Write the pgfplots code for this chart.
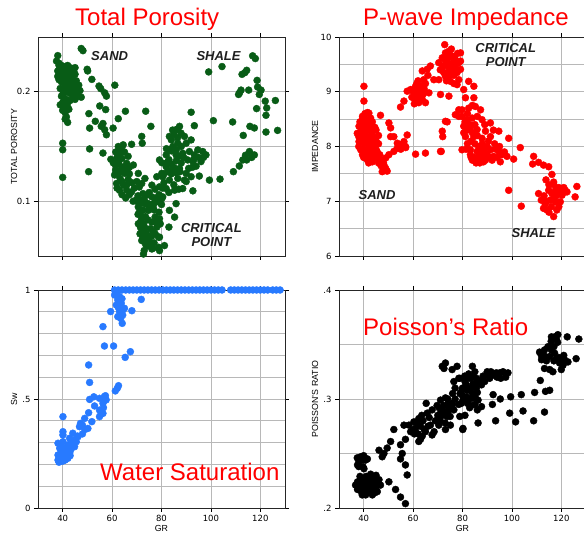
\documentclass[border=0pt]{standalone}
\usepackage{fontspec}
\setmainfont{Liberation Sans}
\newfontfamily\tickfont{DejaVu Sans}
\usepackage{pgfplots}
\pgfplotsset{compat=1.18}
\definecolor{pgreen}{RGB}{8,92,22}
\definecolor{pblue}{RGB}{40,122,255}
\definecolor{annot}{RGB}{30,30,30}
\tikzset{ann/.style={font=\fontsize{13}{14.7}\selectfont\bfseries\itshape, text=annot, align=center}}
\pgfplotsset{
  base/.style={
    scale only axis, width=247pt, anchor=south west,
    xmin=30, xmax=130, xtick={40,60,...,120},
    grid=both,
    major grid style={draw=black!28, line width=0.8pt},
    minor grid style={draw=black!28, line width=0.8pt},
    axis line style={line width=0.8pt, black!85},
    tick style={black, line width=0.6pt},
    tick align=outside, major tick length=4pt, minor tick length=0pt,
    ticklabel style={font=\tickfont\fontsize{8.5}{10}\selectfont},
    /pgf/number format/assume math mode=true,
    label style={font=\fontsize{8.8}{10}\selectfont},
    ylabel style={at={(axis description cs:-0.097,0.5)}, anchor=center},
    xlabel style={at={(axis description cs:0.5,-0.092)}, anchor=center},
    clip=false,
    every axis plot/.append style={only marks, mark=*, mark size=3.5pt},
  },
}
\begin{document}
\begin{tikzpicture}
\useasboundingbox (0,0) rectangle (584pt,537pt);
% ---------------- Total Porosity ----------------
\begin{axis}[base, at={(38pt,281pt)}, height=219pt,
  ymin=0.05, ymax=0.25, ytick={0.1,0.2}, minor ytick={0.15},
  yticklabels={0.1,0.2}, xticklabels={},
  ylabel={TOTAL POROSITY}]
\addplot[pgreen, mark options={fill=pgreen, draw=pgreen}] coordinates {
(38,0.233)(37.5,0.228)(38.5,0.224)(39,0.221)(40,0.222)(41,0.223)(42,0.224)(43,0.222)(44,0.221)(45,0.222)
(38,0.219)(39,0.216)(40,0.215)(41,0.217)(42,0.218)(43,0.216)(44,0.214)(45,0.216)
(38.5,0.211)(39.5,0.209)(40.5,0.208)(41.5,0.21)(42.5,0.209)(43.5,0.211)(44.5,0.207)
(39,0.203)(40,0.201)(41,0.2)(42,0.203)(43,0.204)(39.5,0.196)(40.5,0.194)(41.5,0.193)
(40,0.19)(41,0.187)(42,0.186)(45,0.203)(46,0.199)(47,0.201)(46.5,0.206)(47.5,0.195)(44,0.196)(45,0.193)
(40,0.183)(41,0.181)(42.5,0.184)(41.5,0.177)(42,0.172)(38,0.214)
(38.5,0.226)(39.5,0.224)(40.5,0.219)(41.5,0.22)(42.5,0.213)(43.5,0.219)(44.5,0.218)(39.5,0.213)(40.5,0.212)(41,0.205)(42.5,0.199)
(43.5,0.201)(40,0.197)(41,0.191)(39,0.188)(42,0.19)(43,0.192)(44,0.2)(46,0.196)(45.5,0.21)(41,0.175)(40.5,0.185)
(47.5,0.2395)(48.2,0.2375)(49.9,0.2205)(50.1,0.219)(51.8,0.2113)(54.7,0.2052)(55.4,0.2028)(57,0.199)(57.7,0.196)(61.1,0.206)
(55,0.187)(57.4,0.1837)(50.6,0.18)(53.2,0.173)(55.6,0.1684)(57,0.1653)(57.7,0.1607)(56.3,0.171)(60.4,0.1668)(62.5,0.1754)(65.4,0.1822)
(50.9,0.1668)(40,0.153)(40,0.147)(40,0.1218)(50.9,0.1478)(56.3,0.144)(50.5,0.127)(59.5,0.1383)(73.6,0.1822)(75.7,0.1684)
(72,0.1592)(72.2,0.153)(67.9,0.152)(64.5,0.1515)(63.1,0.145)(63.8,0.149)(62.5,0.1377)(61.4,0.1331)(63.8,0.13)(65.9,0.1346)(68.6,0.1331)
(61.4,0.1285)(62.5,0.1254)(65.2,0.1254)(61.8,0.1162)(64.5,0.1147)(65.9,0.1101)(67.9,0.1086)(69.9,0.1015)(70.6,0.1254)(73.3,0.1208)
(76.1,0.1147)(72,0.1162)(77.4,0.111)(80.1,0.1352)(80.1,0.1254)(78.1,0.1224)
(62,0.14)(63,0.142)(64,0.139)(62.8,0.134)(64.5,0.131)(63.2,0.121)(64,0.118)(66.5,0.12)(63,0.11)(62,0.112)(66,0.115)(67,0.125)(68,0.117)(69,0.112)(65,0.145)(66.5,0.141)(70,0.118)(71,0.113)
(60.5,0.135)(61,0.124)(63.5,0.127)(66,0.128)(67,0.131)(64,0.106)(65.5,0.103)(67,0.106)(68.5,0.1)(61.5,0.145)(62.5,0.15)
(70.6,0.0948)(71.3,0.0886)(72,0.084)(72.7,0.0794)(73.3,0.0748)(74,0.0702)(74.7,0.0656)(75.4,0.061)(72.7,0.0518)(76.1,0.0564)(78.8,0.058)
(74.7,0.0917)(76.7,0.0963)(78.8,0.0994)(80.1,0.1024)(77.4,0.0856)(76.1,0.081)(78.1,0.0764)(79.5,0.0794)(76.7,0.0718)(78.8,0.0672)
(73.3,0.0978)(72,0.1009)(70.6,0.0794)(71.3,0.0702)(72,0.0641)(74,0.1055)(76.1,0.104)(78,0.103)
(71,0.09)(72.5,0.092)(73.5,0.086)(75,0.095)(77,0.092)(71.5,0.081)(73,0.077)(74.5,0.083)(72,0.072)(75.5,0.075)(73.5,0.066)(76,0.068)(74,0.059)(77,0.062)(70.5,0.105)(72.5,0.107)(75,0.108)
(70,0.1)(71.5,0.098)(73,0.101)(74.5,0.098)(76,0.097)(77.5,0.1)(79,0.106)(70.5,0.088)(71.5,0.076)(72.5,0.067)(73.5,0.061)(75,0.064)
(76.5,0.057)(77.5,0.07)(78,0.081)(79,0.09)(80,0.097)(73,0.055)
(79.2,0.1377)(81.9,0.1423)(83.2,0.1592)(85.9,0.1653)(87.3,0.1684)(87.9,0.1622)(89.3,0.1592)(90,0.153)(92,0.156)(86.6,0.153)(84.6,0.15)
(83.2,0.1469)(85.9,0.1423)(88.6,0.1438)(91.3,0.1454)(94.7,0.1469)(96.7,0.1454)(98,0.1423)(96,0.1362)(93.3,0.1423)(92.7,0.1362)(90.6,0.1377)
(81.9,0.1316)(84.6,0.1285)(87.3,0.13)(90,0.1254)(92.5,0.131)(80.5,0.1224)(83.2,0.1193)(86.6,0.1208)(89.3,0.1193)(92,0.1224)(95.3,0.123)
(79.2,0.1132)(81.9,0.1116)(85.3,0.1101)(88.6,0.1116)(92.7,0.1095)(80.5,0.104)(85.9,0.0978)(83.2,0.0917)(85.3,0.0855)(79.2,0.084)(83,0.0764)
(79.2,0.0672)(81.2,0.0595)(79.2,0.0549)(99.4,0.1193)(103.7,0.1202)(109.1,0.127)(111.5,0.1322)(112.9,0.1377)(114.5,0.1377)(115.6,0.1454)(117.6,0.1423)(116.5,0.14)(114,0.142)
(84,0.156)(85,0.161)(86.5,0.158)(88,0.15)(83,0.138)(84,0.134)(86,0.137)(87.5,0.127)(82.5,0.127)(85,0.115)(81,0.117)(84,0.125)
(81,0.125)(82,0.135)(83,0.128)(85,0.131)(86,0.126)(88,0.135)(89,0.14)(91,0.13)(93,0.138)(94,0.132)(97,0.14)(95,0.14)(84,0.146)(86,0.147)
(82,0.148)(87,0.141)(80.5,0.112)(83,0.108)(87,0.111)(90,0.118)(84.5,0.165)(86.5,0.166)
(92,0.1813)(93.3,0.169)(101,0.1736)(108.8,0.1724)(113.1,0.1601)(115.8,0.1684)(117.6,0.1669)(122.3,0.1632)(127,0.1647)(118.5,0.1846)
(122.3,0.1785)(122.6,0.1852)(126.1,0.192)(122,0.1914)(119.6,0.1975)(120.3,0.2015)(118.9,0.2043)(118.7,0.2104)(115.3,0.2015)(112.2,0.2015)
(111.2,0.1975)(111.6,0.199)(112.6,0.2159)(114.5,0.2196)(113.8,0.2175)(116.9,0.2328)(118,0.2303)(99.1,0.2181)(104.5,0.223)
};
\node[ann] at (axis cs:59,0.2327) {SAND};
\node[ann] at (axis cs:103.1,0.2327) {SHALE};
\node[ann] at (axis cs:100.2,0.0692) {CRITICAL\\POINT};
\end{axis}
% ---------------- P-wave Impedance ----------------
\begin{axis}[base, at={(339pt,281pt)}, height=219pt,
  ymin=6, ymax=10, ytick={6,7,8,9,10}, minor ytick={6.5,7.5,8.5,9.5},
  yticklabels={6,7,8,9,10}, xticklabels={},
  ylabel={IMPEDANCE}]
\addplot[red, mark options={fill=red, draw=red}] coordinates {
(40.1,9.1)(40.1,8.83)(42.1,8.61)(46.8,8.57)(42.8,8.52)(39.4,8.49)(41.4,8.43)(38.1,8.37)(40.1,8.34)(42.8,8.34)(37.4,8.24)(39.4,8.21)
(41.4,8.18)(43.5,8.21)(44.8,8.12)(38.1,8.09)(40.1,8.06)(42.1,8.03)(44.1,8.0)(38.8,7.94)(40.8,7.91)(42.8,7.88)(44.8,7.85)(41.4,7.76)
(43.5,7.72)(46.2,7.75)(48.2,7.66)(47.5,7.54)(48.9,7.6)(50.2,7.85)(52.2,7.91)(53.6,7.97)(54.9,8.03)(56.3,8.09)(57.6,8.21)(56.9,8.0)
(50.9,8.18)(52.2,8.18)(50.2,8.43)(50.9,8.34)(53.6,8.06)(48.9,7.79)(61,7.86)(65,7.88)(71.4,7.91)
(38,8.0)(39,8.12)(40.5,8.25)(41,8.5)(42,8.4)(43,8.28)(44,8.15)(45,7.95)(39.5,7.85)(41,7.82)(42,7.7)(43,7.8)(45.5,7.9)(46,8.05)(39,8.3)(40,7.95)(43.5,8.45)(45,8.3)(55,7.95)(57,7.98)(55.5,8.0)
(38.5,8.45)(39.5,8.55)(40.5,8.6)(41.5,8.62)(42,8.3)(43,8.15)(44,8.05)(45,8.1)(46,8.2)(44,7.9)(45,7.8)(46,7.7)(47,7.65)(38,8.18)(39,7.95)
(40,7.8)(41.5,7.95)(42.5,8.1)(43.5,7.95)(40.5,8.12)(39.5,8.4)(44.5,8.35)(46.5,7.85)(47.5,7.75)(48,7.7)(49.5,7.55)
(54.9,8.72)(56.3,8.83)(57.6,9.01)(59,9.04)(61,9.1)(61.7,8.95)(63,9.04)(63.7,8.86)(65,8.8)(62.3,8.8)(60.3,8.89)(64.3,9.22)(63.7,9.38)
(65.7,9.41)(67,9.47)(68.4,9.22)(66.4,8.98)(64,8.95)(60,9.0)(61.5,9.15)(62,9.2)(63.5,9.1)(64.5,9.05)(62.5,8.92)(66,9.3)(60.5,8.78)
(59.5,8.9)(60.5,9.05)(61.5,8.85)(62.5,9.05)(63,8.9)(64,9.12)(61,8.95)(65,9.15)(62,8.82)
(70.4,9.53)(71.8,9.62)(73.1,9.71)(72.8,9.86)(74.5,9.74)(75.8,9.65)(76.5,9.56)(74.5,9.44)(73.1,9.28)(75.1,9.19)(77.8,9.13)(77.8,9.35)
(78.5,9.53)(71.1,8.95)(74.5,8.92)(72.4,9.35)(70.4,9.22)(72,9.45)(73.5,9.55)(75,9.5)(76,9.4)(77,9.6)(74,9.6)(71,9.4)(76.5,9.3)
(79.2,9.71)(79.2,9.56)(79.2,9.41)(78.5,9.22)
(73,9.5)(74,9.35)(75,9.3)(76,9.65)(77,9.45)(78,9.4)(72.5,9.6)(74.5,9.65)(75.5,9.78)(78,9.7)(76.5,9.15)(73.5,9.2)
(77.1,8.58)(78.5,8.55)(73.1,8.46)(73.8,8.45)(71.8,8.28)(72,8.18)(71.1,7.91)(79.8,7.94)(79.8,8.67)
(82.5,9.19)(84.6,9.1)(80.5,9.04)(81.2,8.89)(84.6,8.89)(85.2,8.73)(87.3,8.67)(78.5,8.67)(79.8,8.55)(81.9,8.49)(83.9,8.52)(87.9,8.49)
(91.3,8.43)(94.7,8.28)(92.5,8.3)(80.5,8.37)(83.2,8.34)(85.9,8.31)(89.3,8.28)(81.2,8.18)(84.6,8.18)(87.9,8.15)(91.3,8.18)(98.7,8.15)
(103.4,7.98)(83.2,7.94)(85.9,7.91)(88.6,7.97)(91.3,7.94)(94.7,7.91)(83.2,7.85)(86.6,7.79)(89.3,7.75)(92.6,7.82)(96,7.85)(98,7.82)
(100.7,7.77)(95.3,7.72)(98.7,7.2)(103.8,6.91)
(82,8.6)(83,8.4)(84,8.25)(85,8.05)(86,8.2)(87,7.85)(88,8.05)(85,7.8)(84,7.75)(86,7.75)(88,7.8)(90,7.85)(82,8.05)(80.5,8.25)(81.5,7.95)(89,8.4)(90.5,8.1)(93,8.05)(84,8.75)(86,8.55)
(82,8.3)(83.5,8.1)(85,8.4)(86.5,8.0)(87.5,7.95)(89,7.9)(90,8.0)(91,7.8)(92,7.75)(87,7.7)(88.5,7.72)(85.5,7.7)(83.5,7.8)(81,8.45)(82.5,8.7)(93.5,7.95)(94,7.8)(95,8.0)(97,7.9)
(108.8,7.82)(108.4,7.68)(110.8,7.71)(112.8,7.66)(114.9,7.63)(116.2,7.49)(113.8,7.39)(116.9,7.35)(110.8,7.14)(111.9,7.02)(112.8,6.87)
(114.2,6.84)(116.9,6.72)(118.2,6.84)(114.9,7.2)(116.2,7.14)(117.6,7.2)(118.9,7.14)(115.5,7.02)(117.6,6.99)(119.6,6.99)(121.6,7.2)
(122.3,7.17)(120.3,7.11)(126.3,7.27)(125.6,7.08)(119,7.25)(117,7.3)(121,7.25)
(113,7.1)(114,7.0)(115,7.3)(116,6.9)(117,7.05)(118,7.1)(119,6.9)(120,7.2)(115,6.8)(113.5,6.95)
};
\node[ann] at (axis cs:97.5,9.67) {CRITICAL\\POINT};
\node[ann] at (axis cs:45.4,7.12) {SAND};
\node[ann] at (axis cs:108.8,6.42) {SHALE};
\end{axis}
% ---------------- Water Saturation ----------------
\begin{axis}[base, at={(38pt,29pt)}, height=218pt,
  ymin=0, ymax=1, ytick={0,0.5,1}, minor ytick={0.1,0.2,0.3,0.4,0.6,0.7,0.8,0.9},
  yticklabels={0,.5,1}, xticklabels={40,60,80,100,120},
  ylabel={Sw}, xlabel={GR}]
\addplot[pblue, mark options={fill=pblue, draw=pblue}] coordinates {
(61,1)(62.5,1)(64,1)(65.5,1)(67,1)(68.5,1)(70,1)(71.5,1)(73,1)(74.5,1)(76,1)(77.5,1)(79,1)(80.5,1)(82,1)(83.5,1)(85,1)(86.5,1)
(88,1)(89.5,1)(91,1)(92.5,1)(94,1)(95.5,1)(97,1)(98.5,1)(100,1)(101.5,1)(103,1)(104.5,1)
(108,1)(109.5,1)(111,1)(112.5,1)(114,1)(115.5,1)(117,1)(118.5,1)(120,1)(121.5,1)(123,1)(125,1)(126.5,1)(128,1)
(61,0.977)(62.3,0.954)(61.7,0.931)(63.7,0.939)(65,0.916)(63,0.901)(62.3,0.878)(64.3,0.885)(59.4,0.901)(68,0.905)(71.8,0.957)
(64.1,0.847)(56.3,0.832)(56.9,0.743)(60.6,0.743)(65.3,0.691)(67.4,0.717)(50.5,0.656)(50.9,0.576)(40.1,0.419)(40.1,0.35)(40.1,0.335)
(50.9,0.498)(52.6,0.51)(50.5,0.437)(52.9,0.468)(54.9,0.503)(56.9,0.511)(57.6,0.496)(56.3,0.48)(54.9,0.449)(56.3,0.434)(54.9,0.419)
(51.8,0.396)(50.2,0.365)(47.2,0.388)(46.8,0.373)(44.1,0.343)(46.2,0.327)(44.8,0.312)(43.5,0.304)(42.1,0.289)(40.8,0.274)(39.4,0.258)
(38.1,0.297)(38.1,0.243)(38.1,0.22)(39.4,0.228)(40.8,0.235)(42.1,0.228)(42.8,0.251)(41.4,0.258)(43.5,0.274)(44.8,0.281)(45.5,0.304)
(40.1,0.304)(38.8,0.274)(42.8,0.32)(48.9,0.411)(62.1,0.549)(61.3,0.537)(62.6,0.561)
(62,0.99)(63,0.97)(64,0.96)(62.5,0.92)(64.5,0.91)(63.5,0.87)(57.3,0.515)(56.5,0.46)(55.5,0.43)(39,0.24)(40,0.26)(41,0.25)(42,0.27)
(43,0.26)(44,0.29)(45,0.31)(39.5,0.28)(41,0.22)(43,0.24)(46,0.33)(48,0.34)(49,0.36)(48,0.38)(38.5,0.21)(40,0.215)
};
\end{axis}
% ---------------- Poisson's Ratio ----------------
\begin{axis}[base, at={(339pt,29pt)}, height=218pt,
  ymin=0.2, ymax=0.4, ytick={0.2,0.3,0.4}, minor ytick={0.25,0.35},
  yticklabels={.2,.3,.4}, xticklabels={40,60,80,100,120},
  ylabel={POISSON'S RATIO}, xlabel={GR}]
\addplot[black, mark options={fill=black, draw=black}] coordinates {
(36.7,0.221)(38.1,0.224)(39.4,0.223)(40.8,0.224)(42.1,0.227)(43.5,0.229)(44.8,0.224)(46.2,0.226)(46.8,0.221)(38.1,0.218)(40.1,0.216)
(42.1,0.215)(44.1,0.216)(41.4,0.221)(43.5,0.221)(39.4,0.212)(43.5,0.212)(40.8,0.212)(42.8,0.231)(37.4,0.246)(38.8,0.247)(40.8,0.244)
(39.7,0.238)(40.1,0.236)(50.2,0.224)(52.9,0.217)(54.9,0.21)(56.9,0.204)(57.6,0.2303)(56.9,0.2395)(54.9,0.245)(54.9,0.258)(50.9,0.261)
(46.2,0.253)(48.2,0.25)(49.5,0.255)(47.5,0.247)(52.2,0.272)(56.9,0.263)(55.6,0.25)(38,0.243)(41.5,0.245)(37.5,0.217)(45,0.219)(42,0.219)
(37.5,0.224)(38.5,0.229)(39,0.215)(39.5,0.227)(40,0.22)(41,0.229)(41.5,0.215)(42.5,0.223)(43,0.218)(44,0.226)(45,0.23)(45.5,0.222)
(44.5,0.214)(41,0.226)(39,0.244)(40,0.248)(38,0.238)(37.5,0.2395)(45.5,0.215)(38.5,0.219)
(56.3,0.276)(58.3,0.276)(60.3,0.279)(62.3,0.282)(61,0.273)(63,0.275)(65,0.27)(63.7,0.266)(62.3,0.261)(67,0.276)(67.7,0.267)(65.7,0.287)
(65.3,0.296)(67.7,0.29)(69.7,0.294)(71.1,0.299)(73.1,0.301)(72.4,0.294)(71.1,0.287)(70.4,0.276)(73.8,0.284)(74.5,0.292)(75.8,0.296)
(76.5,0.29)(73.1,0.272)(75.1,0.276)(78.5,0.295)(71.8,0.33)(73.1,0.333)(75.8,0.327)(77.8,0.33)(76.5,0.316)(78.5,0.319)(80.1,0.272)
(72.5,0.328)(60,0.272)(62,0.268)(64,0.28)(66,0.275)(72,0.285)(74,0.3)(76,0.305)(77,0.31)(79,0.305)(70,0.285)
(60.5,0.268)(61.5,0.278)(63.5,0.285)(64.5,0.272)(66.5,0.283)(68.5,0.27)(63,0.263)(59,0.27)(69,0.28)(71,0.28)(72,0.29)(74,0.288)
(75,0.284)(76,0.295)(77,0.3)(74,0.295)(70.5,0.292)(73,0.278)
(78.9,0.319)(80.9,0.321)(82.9,0.319)(84.3,0.314)(85.6,0.319)(87,0.316)(88.3,0.321)(89.7,0.322)(91,0.319)(92.4,0.322)(93.7,0.324)
(95.1,0.324)(96.4,0.325)(98.4,0.324)(84,0.33)(81.6,0.313)(83.6,0.31)(85.6,0.31)(87.7,0.313)(79.6,0.307)(81.6,0.302)(84.3,0.301)
(86.3,0.299)(87.7,0.293)(80.2,0.299)(82.9,0.292)(78.9,0.284)(80.2,0.273)(86.3,0.278)(92.4,0.304)(92.1,0.295)(95.3,0.3)(93.4,0.28)
(99.5,0.302)(99.1,0.287)(101.5,0.279)(103.8,0.304)(104.5,0.289)(108.8,0.28)(109.2,0.306)(113.6,0.307)(115.3,0.308)(113.2,0.288)
(111.5,0.317)(82,0.308)(84,0.305)(86,0.306)(85,0.295)(83,0.3)
(80,0.31)(81,0.316)(82.5,0.323)(84,0.32)(85,0.325)(86,0.315)(88,0.318)(89,0.316)(90,0.325)(91.5,0.325)(94,0.32)(95.5,0.319)(97.5,0.32)
(80,0.303)(82,0.296)(83.5,0.294)(85,0.302)(81,0.285)(79.5,0.296)(86,0.29)
(111.9,0.34)(111.2,0.343)(113.2,0.345)(114.6,0.348)(115.9,0.353)(117.3,0.357)(118.6,0.359)(122.4,0.357)(127.1,0.355)(115.3,0.339)
(117.3,0.342)(118,0.337)(119.3,0.333)(121.3,0.336)(122.7,0.334)(126,0.337)(113.2,0.328)(115.3,0.327)(116.6,0.325)(120.7,0.331)(118,0.355)(117,0.348)
(112,0.336)(113,0.34)(114,0.335)(116,0.345)(117,0.335)(119,0.338)(120,0.327)(121,0.34)(118.5,0.352)(116,0.357)
};
\end{axis}
% ---------------- Titles ----------------
\node[anchor=base west, text=red, font=\fontsize{24}{28}\selectfont, inner sep=0pt] at (75pt,511pt) {Total Porosity};
\node[anchor=base west, text=red, font=\fontsize{24}{28}\selectfont, inner sep=0pt] at (363pt,511pt) {P-wave Impedance};
\node[anchor=base west, text=red, font=\fontsize{24}{28}\selectfont, inner sep=0pt] at (100pt,56pt) {Water Saturation};
\node[anchor=base west, text=red, font=\fontsize{24}{28}\selectfont, inner sep=0pt] at (363pt,201pt) {Poisson’s Ratio};
\end{tikzpicture}
\end{document}
